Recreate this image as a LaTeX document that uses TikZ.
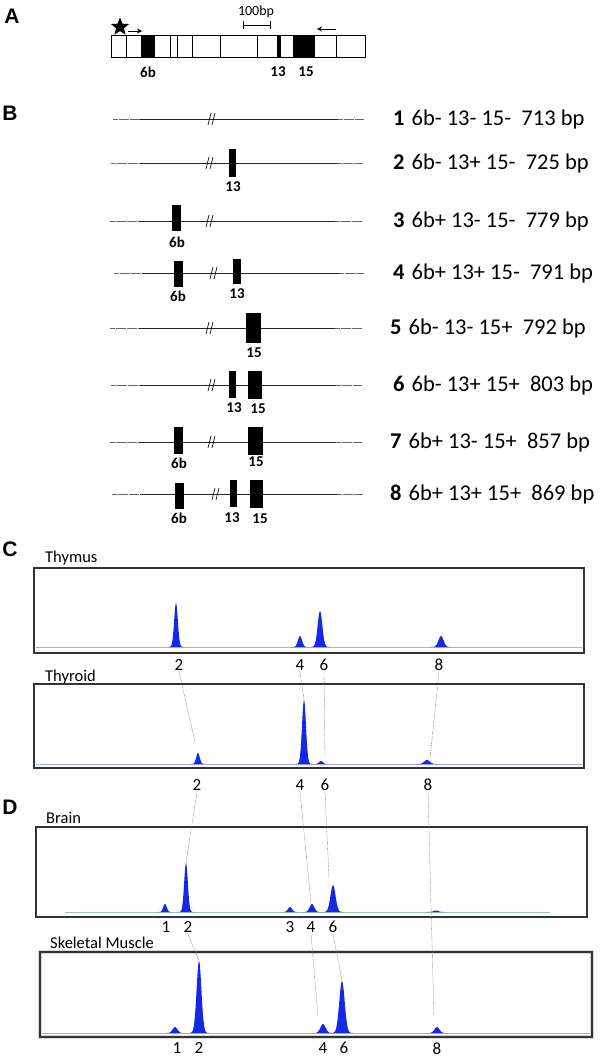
\documentclass[tikz,border=0pt]{standalone}
\usepackage{fontspec}
\setmainfont{Carlito}
\newfontfamily\panelfont{Liberation Sans}
\usetikzlibrary{shapes.geometric,arrows.meta}
\definecolor{peakblue}{RGB}{20,40,230}
\definecolor{baseblue}{RGB}{165,175,240}
\definecolor{basegreen}{RGB}{150,200,170}
\tikzset{
  panel/.style={font=\panelfont\bfseries\fontsize{21}{23}\selectfont, inner sep=0},
  tissue/.style={font=\fontsize{16.5}{18}\selectfont, anchor=west, inner sep=0},
  plab/.style={font=\fontsize{17}{19}\selectfont, inner sep=1pt},
  glab/.style={font=\bfseries\fontsize{15}{17}\selectfont, inner sep=0},
  exon/.style={fill=black, draw=none, inner sep=0},
  iso/.style={font=\fontsize{22.5}{24}\selectfont, anchor=west, inner sep=0},
  trace/.style={draw=black!80, line width=1.2},
  conn/.style={draw=black!55, line width=0.35, dash pattern=on 1pt off 0.7pt},
  intron/.style={line width=1, black!85},
  flank/.style={line width=0.8, black!60, dash pattern=on 0.6pt off 0.5pt},
}
\newcommand{\brk}[2]{\draw[line width=0.7] (#1-4,#2+6) -- (#1-1,#2-6) (#1,#2+6) -- (#1+3,#2-6);}
\newcommand{\isorow}[5]{\draw[flank] (#2,#1) -- (#3,#1); \draw[intron] (#3,#1) -- (#4,#1); \draw[flank] (#4,#1) -- (#5,#1);}
\newcommand{\exn}[5]{\node[exon, minimum width={#3-#2}, minimum height={#5-#4}] (#1) at ({(#2+#3)/2},{(#4+#5)/2}) {};}
\newcommand{\pk}[5]{%
  \pgfmathsetmacro\pa{#2-3*#5}\pgfmathsetmacro\pb{#2+3*#5}%
  \fill[peakblue] plot[domain=\pa:\pb, samples=41, smooth] (\x,{#3-#4*exp(-((\x-#2)/#5)*((\x-#2)/#5))}) -- cycle;
  \coordinate (#1) at (#2,#3-#4);}
\newcommand{\isotxt}[3]{\textbf{#1}\hspace{7pt}#2\ \ #3 bp}
\begin{document}
\begin{tikzpicture}[x=1pt,y=-1pt]
\useasboundingbox (0,0) rectangle (600,1058);
% ---------------- A
\node[panel] (pA) at (12,16) {A};
\draw[line width=0.8] (111,35) rectangle (365,57);
\foreach \xx in {126,170,177,192,220,257,336} \draw[line width=0.8] (\xx,35) -- (\xx,57);
\fill (141,35) rectangle (155,57);
\fill (277,35) rectangle (281,57);
\fill (293,35) rectangle (315,57);
\node[glab] (a6b) at (148,72) {6b};
\node[glab] (a13) at (278,72) {13};
\node[glab] (a15) at (306,72) {15};
\node[star, star points=5, star point ratio=2.3, fill=black, inner sep=0, minimum size=19] (star) at (120,27) {};
\coordinate (fs) at (128,31); \coordinate (fe) at (142,31);
\draw[line width=1, -{Stealth[length=5pt,width=5pt]}] (fs) -- (fe);
\coordinate (rs) at (336,29); \coordinate (re) at (317,29);
\draw[line width=1, -{Stealth[length=5pt,width=5pt]}] (rs) -- (re);
\node[font=\fontsize{14}{16}\selectfont, inner sep=0] (sb) at (256,12) {100bp};
\draw[line width=0.6] (243,25) -- (270,25) (243,21) -- (243,29) (270,21) -- (270,29);
% ---------------- B
\node[panel] (pB) at (10,113) {B};
% row 1
\isorow{119}{113}{140}{338}{364} \brk{212}{119}
\node[iso] (t1) at (393,119) {\isotxt{1}{6b- 13- 15-}{713}};
% row 2
\isorow{163}{111}{140}{337}{363} \brk{210}{163}
\exn{r2a}{229}{236}{149}{177}
\node[glab] at (233,187) {13};
\node[iso] (t2) at (393,163) {\isotxt{2}{6b- 13+ 15-}{725}};
% row 3
\isorow{221}{110}{139}{335}{362} \brk{210}{221}
\exn{r3a}{172}{181}{205}{231}
\node[glab] at (177,242) {6b};
\node[iso] (t3) at (393,221) {\isotxt{3}{6b+ 13- 15-}{779}};
% row 4
\isorow{273}{114}{142}{339}{364} \brk{214}{273}
\exn{r4a}{174}{183}{261}{287}
\exn{r4b}{233}{241}{259}{284}
\node[glab] at (178,296) {6b};
\node[glab] at (237,294) {13};
\node[iso] (t4) at (393,273) {\isotxt{4}{6b+ 13+ 15-}{791}};
% row 5
\isorow{328}{110}{139}{335}{362} \brk{210}{328}
\exn{r5a}{246}{261}{313}{343}
\node[glab] at (254,353) {15};
\node[iso] (t5) at (390,328) {\isotxt{5}{6b- 13- 15+}{792}};
% row 6
\isorow{385}{111}{140}{336}{362} \brk{212}{385}
\exn{r6a}{229}{236}{371}{398}
\exn{r6b}{248}{262}{371}{399}
\node[glab] at (234,408) {13};
\node[glab] at (258,409) {15};
\node[iso] (t6) at (393,385) {\isotxt{6}{6b- 13+ 15+}{803}};
% row 7
\isorow{442}{110}{139}{336}{362} \brk{212}{442}
\exn{r7a}{174}{183}{427}{454}
\exn{r7b}{248}{263}{427}{455}
\node[glab] at (179,463) {6b};
\node[glab] at (256,462) {15};
\node[iso] (t7) at (390,442) {\isotxt{7}{6b+ 13- 15+}{857}};
% row 8
\isorow{494}{112}{140}{337}{363} \brk{216}{494}
\exn{r8a}{175}{184}{483}{509}
\exn{r8b}{230}{237}{480}{507}
\exn{r8c}{250}{263}{480}{508}
\node[glab] at (179,518) {6b};
\node[glab] at (232,518) {13};
\node[glab] at (260,519) {15};
\node[iso] (t8) at (390,494) {\isotxt{8}{6b+ 13+ 15+}{869}};
% ---------------- C
\node[panel] (pC) at (10,549) {C};
\node[tissue] (thy) at (45,558) {Thymus};
\draw[baseblue, line width=0.7] (36,647) -- (582,647);
\pk{T2}{176}{647}{44}{2.6}
\pk{T4}{300}{647}{11}{2.9}
\pk{T6}{320}{647}{36}{3.3}
\pk{T8}{441}{647}{11}{3.6}
\draw[trace] (34,568) rectangle (584,653);
\node[plab] (lT2) at (179,665) {2};
\node[plab] (lT4) at (300,665) {4};
\node[plab] (lT6) at (324,665) {6};
\node[plab] (lT8) at (439,665) {8};
\node[tissue] (tyr) at (45,677) {Thyroid};
\draw[baseblue, line width=0.7] (36,764) -- (582,764);
\pk{Y2}{198}{764}{11}{2.5}
\pk{Y4}{304}{764}{64}{2.8}
\pk{Y6}{321}{764}{3}{2.8}
\pk{Y8}{427}{764}{4}{4}
\draw[trace] (34,684) rectangle (584,768);
\coordinate (e2) at (195,742);
\coordinate (e6) at (325,756);
\coordinate (e8) at (430,759);
\draw[conn] (lT2.south) -- (e2);
\draw[conn] (lT4.south) -- (Y4);
\draw[conn] (lT6.south) -- (e6);
\draw[conn] (lT8.south) -- (e8);
\node[plab] (lY2) at (197,785) {2};
\node[plab] (lY4) at (300,785) {4};
\node[plab] (lY6) at (325,785) {6};
\node[plab] (lY8) at (428,785) {8};
% ---------------- D
\node[panel] (pD) at (10,807) {D};
\node[tissue] (brn) at (46,818) {Brain};
\draw[basegreen, line width=0.9] (65,912) -- (550,912);
\pk{B1}{165}{912}{8}{2.5}
\pk{B2}{186}{912}{49}{2.6}
\pk{B3}{290}{912}{5}{2.9}
\pk{B4}{312}{912}{8}{3.2}
\pk{B6}{333}{912}{27}{3.6}
\pk{B8}{436}{912}{1.5}{3.5}
\draw[trace] (36,827) rectangle (587,917);
\coordinate (f4) at (311,903);
\coordinate (f6) at (329,878);
\draw[conn] (lY2.south) -- (B2);
\draw[conn] (lY4.south) -- (f4);
\draw[conn] (lY6.south) -- (f6);
\node[plab] (lB1) at (166,927) {1};
\node[plab] (lB2) at (188,927) {2};
\node[plab] (lB3) at (290,927) {3};
\node[plab] (lB4) at (311,927) {4};
\node[plab] (lB6) at (333,927) {6};
\node[tissue] (skm) at (50,943) {Skeletal Muscle};
\draw[black!15, line width=4] (40,952) rectangle (592,1037);
\draw[baseblue, line width=0.7] (42,1033) -- (590,1033);
\pk{S1}{175}{1033}{6}{3.4}
\pk{S2}{199}{1033}{72}{3.4}
\pk{S4}{323}{1033}{9}{3.6}
\pk{S6}{342}{1033}{52}{3.8}
\pk{S8}{437}{1033}{6}{3.5}
\draw[trace] (40,952) rectangle (592,1037);
\coordinate (g4) at (318,1017);
\coordinate (g8) at (434,1017);
\draw[conn] (lY8.south) -- (g8);
\draw[conn] (lB2.south) -- (S2);
\draw[conn] (lB4.south) -- (g4);
\draw[conn] (lB6.south) -- (S6);
\node[plab] (lS1) at (177,1048) {1};
\node[plab] (lS2) at (199,1048) {2};
\node[plab] (lS4) at (323,1048) {4};
\node[plab] (lS6) at (344,1048) {6};
\node[plab] (lS8) at (437,1049) {8};
\end{tikzpicture}
\end{document}
